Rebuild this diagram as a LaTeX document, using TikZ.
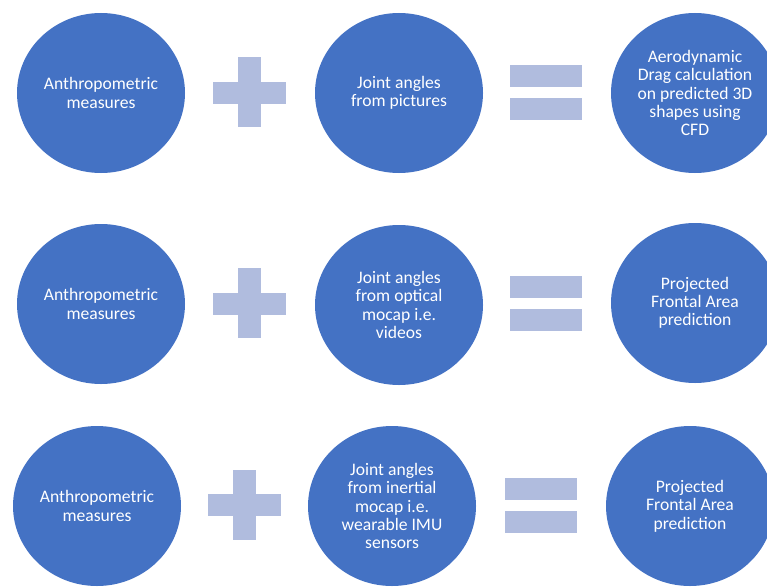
\documentclass[tikz,border=0pt]{standalone}
\usepackage{fontspec}
\setmainfont{Carlito}
\usepackage{xcolor}
\usepackage{tikz}
\usetikzlibrary{shapes.geometric, positioning}

\definecolor{discblue}{HTML}{4472C4}
\definecolor{signblue}{HTML}{B0BCDE}

\begin{document}
\begin{tikzpicture}[x=1pt, y=-1pt,
  disc/.style={ellipse, fill=discblue, text=white, minimum width=168pt, minimum height=160pt,
    inner sep=0pt, align=center, font=\fontsize{17.6}{18.3}\selectfont},
  signbar/.style={rectangle, fill=signblue, inner sep=0pt},
  hbar/.style={signbar, minimum width=73pt, minimum height=22pt},
  vbar/.style={signbar, minimum width=23pt, minimum height=70pt},
  eqbar/.style={signbar, minimum width=72pt, minimum height=22pt}]
\useasboundingbox (0,0) rectangle (767,586);
\clip (0,0) rectangle (767,586);

% Row 1
\node[disc] (anthroA) at (101,93) {Anthropometric\\measures};
\node[hbar] (plusAh) at (249,93) {};
\node[vbar] (plusAv) at (249,92) {};
\node[disc] (jointA) at (399,93) {Joint angles\\from pictures};
\node[eqbar] (eqAtop) at (546,76) {};
\node[eqbar] (eqAbot) at (546,109) {};
\node[disc] (dragA) at (695,93) {Aerodynamic\\Drag calculation\\on predicted 3D\\shapes using\\CFD};

% Row 2
\node[disc] (anthroB) at (101,304) {Anthropometric\\measures};
\node[hbar] (plusBh) at (249,304) {};
\node[vbar] (plusBv) at (249,303) {};
\node[disc] (jointB) at (399,305) {Joint angles\\from optical\\mocap i.e.\\videos};
\node[eqbar] (eqBtop) at (546,287) {};
\node[eqbar] (eqBbot) at (546,320) {};
\node[disc] (areaB) at (695,303) {Projected\\Frontal Area\\prediction};

% Row 3
\node[disc] (anthroC) at (97,506) {Anthropometric\\measures};
\node[hbar] (plusCh) at (244,505) {};
\node[vbar] (plusCv) at (244,505) {};
\node[disc] (jointC) at (392,506) {Joint angles\\from inertial\\mocap i.e.\\wearable IMU\\sensors};
\node[eqbar] (eqCtop) at (541,489) {};
\node[eqbar] (eqCbot) at (541,522) {};
\node[disc] (areaC) at (690,506) {Projected\\Frontal Area\\prediction};
\end{tikzpicture}
\end{document}
